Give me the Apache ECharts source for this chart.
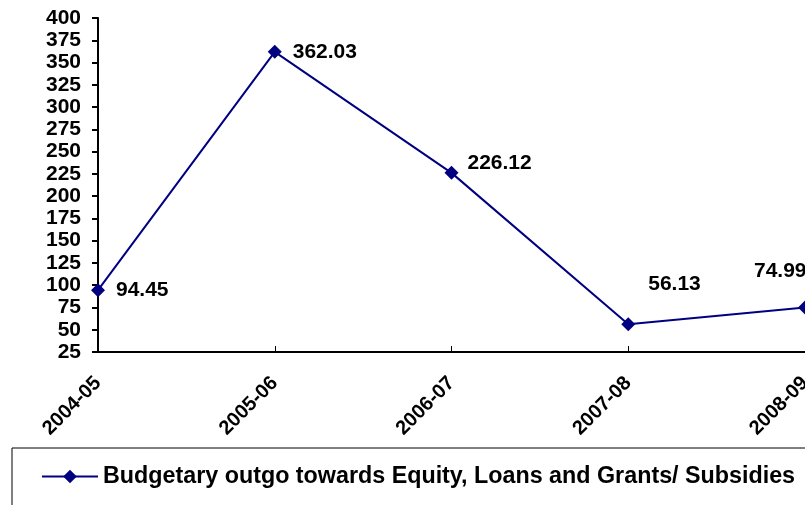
<!DOCTYPE html>
<html>
<head>
<meta charset="utf-8">
<script src="https://cdn.jsdelivr.net/npm/echarts@6/dist/echarts.min.js"></script>
<style>
    html, body {margin: 0; padding: 0; background: #fff;}
    #chart {width: 805px; height: 505px;}
</style>
</head>
<body>
<div id="chart"></div>
<script>
const years = ['2004-05', '2005-06', '2006-07', '2007-08', '2008-09'];
const outgo = [94.45, 362.03, 226.12, 56.13, 74.99];
const seriesName = 'Budgetary outgo towards Equity, Loans and Grants/ Subsidies';
// where Excel put each value label, relative to its point
const labelOffsets = [[18, 0], [18, 0], [16, -10], [20, -40], [-51, -36]];

const font = 'Liberation Sans, Arial, sans-serif';

const points = outgo.map((v, i) => {
    return {
        value: v,
        label: {offset: labelOffsets[i]}
    };
});

const myChart = echarts.init(document.getElementById('chart'));
const option = {
    animation: false,
    backgroundColor: '#fff',
    grid: {
        left: 98,
        right: 0,
        top: 18,
        bottom: 153,
        containLabel: false,
        outerBoundsMode: 'none'
    },
    legend: {
        data: [seriesName],
        left: 12,
        top: 448,
        padding: [17, 120, 40, 29],
        borderColor: '#000',
        borderWidth: 1,
        itemWidth: 56,
        itemHeight: 17,
        textStyle: {
            fontFamily: font,
            fontWeight: 'bold',
            fontSize: 23.3,
            color: '#000'
        }
    },
    xAxis: {
        type: 'category',
        data: years,
        boundaryGap: false,
        axisLine: {lineStyle: {color: '#000', width: 2}},
        axisTick: {inside: true, length: 6, lineStyle: {color: '#000', width: 1}},
        axisLabel: {
            rotate: 45,
            margin: 28,
            interval: 0,
            fontFamily: font,
            fontWeight: 'bold',
            fontSize: 20,
            color: '#000'
        },
        splitLine: {show: false}
    },
    yAxis: {
        type: 'value',
        min: 25,
        max: 400,
        interval: 25,
        axisLine: {show: true, lineStyle: {color: '#000', width: 2}},
        axisTick: {show: true, length: 6, lineStyle: {color: '#000', width: 2}},
        axisLabel: {
            margin: 17,
            fontFamily: font,
            fontWeight: 'bold',
            fontSize: 21,
            color: '#000'
        },
        splitLine: {show: false}
    },
    series: [
        {
            name: seriesName,
            type: 'line',
            data: points,
            symbol: 'diamond',
            symbolSize: 14,
            color: '#000080',
            lineStyle: {color: '#000080', width: 2},
            itemStyle: {color: '#000080'},
            label: {
                show: true,
                position: 'inside',
                align: 'left',
                verticalAlign: 'middle',
                fontFamily: font,
                fontWeight: 'bold',
                fontSize: 21,
                color: '#000'
            }
        }
    ]
};
myChart.setOption(option);
</script>
</body>
</html>
